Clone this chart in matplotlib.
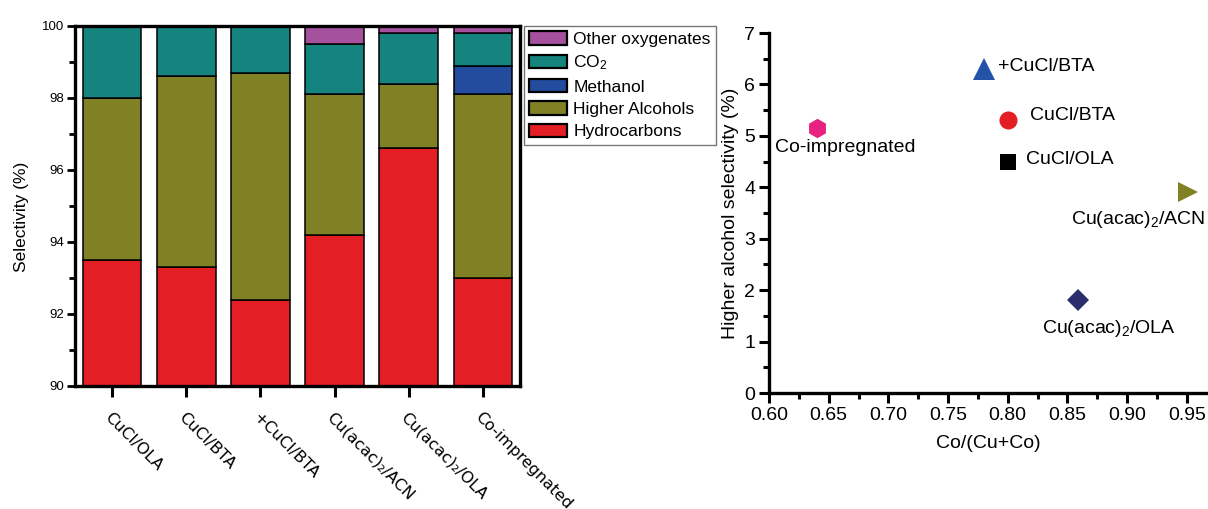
import numpy as np
import matplotlib
matplotlib.use("Agg")
import matplotlib.pyplot as plt
from matplotlib.ticker import MultipleLocator, AutoMinorLocator, FormatStrFormatter

plt.rcParams['font.family'] = ['Liberation Sans', 'DejaVu Sans']
plt.rcParams['mathtext.default'] = 'regular'

# ---- stacked selectivity data (%) ----
catalysts = ["CuCl/OLA", "CuCl/BTA", "+CuCl/BTA",
             "Cu(acac)\u2082/ACN", "Cu(acac)\u2082/OLA", "Co-impregnated"]
hydrocarbons = [93.5, 93.3, 92.4, 94.2, 96.6, 93.0]
higher_alcohols = [4.5, 5.3, 6.3, 3.9, 1.8, 5.1]
methanol = [0.0, 0.0, 0.0, 0.0, 0.0, 0.8]
co2 = [2.0, 1.4, 1.3, 1.4, 1.4, 0.9]
other_oxygenates = [0.0, 0.0, 0.0, 0.5, 0.2, 0.2]

series_names = ["Hydrocarbons", "Higher Alcohols", "Methanol", "CO$_2$", "Other oxygenates"]
series_colors = ["#E31E24", "#808025", "#234C9E", "#15847E", "#A5519D"]

# ---- higher alcohol selectivity vs Co fraction ----
scatter_labels = ["Co-impregnated", "+CuCl/BTA", "CuCl/BTA", "CuCl/OLA",
                  "Cu(acac)$_2$/ACN", "Cu(acac)$_2$/OLA"]
co_fraction = [0.64, 0.78, 0.80, 0.80, 0.951, 0.859]
ha_selectivity = [5.15, 6.3, 5.3, 4.5, 3.9, 1.8]
scatter_markers = ["h", "^", "o", "s", ">", "D"]
scatter_colors = ["#E8207F", "#2352A6", "#E31E24", "#000000", "#808025", "#2B2E6E"]
scatter_sizes = [14, 16, 13, 11, 15, 11.5]
label_offsets = [(-30, -14), (10, 1.5), (16, 3.5), (13, 1.5), (-84, -19.5), (-26, -20)]

fig = plt.figure(figsize=(12.08, 5.09), dpi=100)

# ---------------- stacked bar chart ----------------
ax1 = fig.add_axes([75 / 1208, 1 - 386 / 509, (520 - 75) / 1208, (386 - 26) / 509])
x = np.arange(len(catalysts))
stack = [hydrocarbons, higher_alcohols, methanol, co2, other_oxygenates]
base = np.zeros(len(catalysts))
handles = []
for vals, name, col in zip(stack, series_names, series_colors):
    vals = np.asarray(vals, dtype=float)
    if name == "Hydrocarbons":
        h = ax1.bar(x, vals - 90.0, bottom=90.0, width=0.79, color=col,
                    edgecolor="black", linewidth=1.1, label=name)
        base = vals.copy()
    else:
        h = ax1.bar(x, vals, bottom=base, width=0.79, color=col,
                    edgecolor="black", linewidth=1.1, label=name)
        base = base + vals
    handles.append(h)

ax1.set_xlim(-0.5, 5.5)
ax1.set_ylim(90, 100)
ax1.yaxis.set_major_locator(MultipleLocator(2))
ax1.yaxis.set_minor_locator(MultipleLocator(1))
ax1.set_xticks(x)
ax1.set_xticklabels(catalysts, rotation=-45, ha="left", va="top",
                    rotation_mode="anchor", fontsize=11.5, family="DejaVu Sans")
ax1.tick_params(axis="x", which="major", length=8, width=2.2, pad=9)
ax1.tick_params(axis="y", which="major", length=6, width=2.0, labelsize=9.5, pad=2)
ax1.tick_params(axis="y", which="minor", length=4, width=2.0)
for sp in ax1.spines.values():
    sp.set_linewidth(2.4)
ax1.set_ylabel("Selectivity (%)", fontsize=12.5)
ax1.yaxis.set_label_coords(-0.103, 0.47)

leg = fig.legend(handles[::-1], series_names[::-1], loc="upper left",
                 bbox_to_anchor=(524 / 1208, 1 - 26 / 509), borderaxespad=0,
                 fontsize=12.5, frameon=True, fancybox=False, edgecolor="#555555",
                 handlelength=2.2, handleheight=0.82, handletextpad=0.35,
                 labelspacing=0.38, borderpad=0.3)
leg.get_frame().set_linewidth(1.0)
for p in leg.get_patches():
    p.set_linewidth(1.6)

# ---------------- scatter chart ----------------
ax2 = fig.add_axes([769 / 1208, 1 - 393 / 509, (1207 - 769) / 1208, (393 - 33) / 509])
for xv, yv, lab, mk, col, ms, off in zip(co_fraction, ha_selectivity, scatter_labels,
                                          scatter_markers, scatter_colors, scatter_sizes,
                                          label_offsets):
    ax2.plot([xv], [yv], marker=mk, color=col, markersize=ms, linestyle="none",
             markeredgewidth=0, clip_on=False)
    ax2.annotate(lab, (xv, yv), xytext=off, textcoords="offset points",
                 ha="left", va="center", fontsize=14)

ax2.set_xlim(0.6, 0.967)
ax2.set_ylim(0, 7)
ax2.xaxis.set_major_locator(MultipleLocator(0.05))
ax2.xaxis.set_minor_locator(AutoMinorLocator(2))
ax2.yaxis.set_major_locator(MultipleLocator(1))
ax2.yaxis.set_minor_locator(AutoMinorLocator(2))
ax2.xaxis.set_major_formatter(FormatStrFormatter("%.2f"))
ax2.spines["top"].set_visible(False)
ax2.spines["right"].set_visible(False)
for side in ("left", "bottom"):
    ax2.spines[side].set_linewidth(2.4)
ax2.tick_params(which="major", length=7, width=2.2, labelsize=14, pad=3)
ax2.tick_params(which="minor", length=4, width=2.2)
ax2.set_xlabel("Co/(Cu+Co)", fontsize=14, labelpad=8)
ax2.set_ylabel("Higher alcohol selectivity (%)", fontsize=14, labelpad=4)

fig.savefig("out.png", dpi=100)
